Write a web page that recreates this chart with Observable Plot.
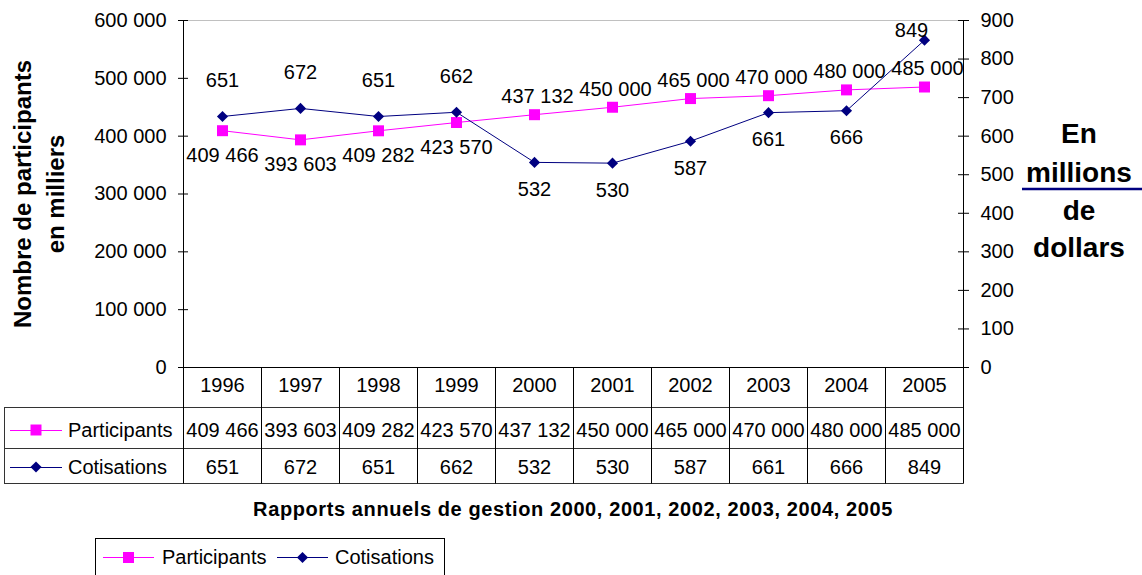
<!DOCTYPE html>
<html><head><meta charset="utf-8">
<script src="https://cdn.jsdelivr.net/npm/d3@7"></script>
<script src="https://cdn.jsdelivr.net/npm/@observablehq/plot@0.6"></script>
<style>
html,body{margin:0;padding:0;background:#fff;}
#chart svg{display:block;}
</style></head><body><div id="chart"></div>
<script>
// ---- data ----
const years = ["1996","1997","1998","1999","2000","2001","2002","2003","2004","2005"];
const participants = [409466, 393603, 409282, 423570, 437132, 450000, 465000, 470000, 480000, 485000];
const cotisations = [651, 672, 651, 662, 532, 530, 587, 661, 666, 849];
const leftTicks = [0, 100000, 200000, 300000, 400000, 500000, 600000];
const rightTicks = [0, 100, 200, 300, 400, 500, 600, 700, 800, 900];
const seriesNames = ["Participants", "Cotisations"];
const titleText = "Rapports annuels de gestion 2000, 2001, 2002, 2003, 2004, 2005";
const leftTitle = ["Nombre de participants", "en milliers"];
const rightTitle = ["En", "millions", "de", "dollars"];

// ---- setup ----
const W = 1142, H = 575;
const yMax = leftTicks[leftTicks.length - 1];
const k = yMax / rightTicks[rightTicks.length - 1];
const fmt = v => d3.format(",")(v).replace(/,/g, " ");
const rows = years.map((year, i) => ({year, p: participants[i], c: cotisations[i], cy: cotisations[i] * k}));
const MAG = "#ff00ff", NAVY = "#000080";
const FONT = "'Liberation Sans', Arial, sans-serif";
const FS = 20;
const rSq = 6.2, rDia = 5;

const pxToY = px => px / 347 * yMax;
// label placement: avoid collisions between the two series
const near = d => d.cy > d.p && d.cy - d.p < pxToY(40);
const cAbove = rows.filter(d => d.cy > d.p);
const cBelow = rows.filter(d => d.cy <= d.p);
const pBelow = rows.filter(d => near(d));
const pAbove = rows.filter(d => !near(d));
const cAboveOff = pxToY(36), capY = yMax - pxToY(10);
const cAboveNormal = cAbove.filter(d => d.cy + cAboveOff <= capY);
const cAboveTop = cAbove.filter(d => d.cy + cAboveOff > capY);

const chart = Plot.plot({
  width: W, height: H,
  marginLeft: 183, marginRight: 179, marginTop: 20, marginBottom: 208,
  style: {fontFamily: FONT, fontSize: FS + "px", color: "#000", background: "#fff"},
  x: {type: "point", domain: years, padding: 0.5, axis: null},
  y: {domain: [0, yMax]},
  marks: [
    Plot.frame({stroke: "#000"}),
    Plot.ruleY([yMax], {stroke: "#c0c0c0"}),
    Plot.axisY(leftTicks, {anchor: "left", tickSize: 5, tickPadding: 12, tickFormat: fmt, fontSize: FS, label: null}),
    Plot.gridY(leftTicks, {stroke: "#000", strokeOpacity: 1, insetRight: 775}),
    Plot.axisY(rightTicks.map(v => v * k), {anchor: "right", tickSize: 5, tickPadding: 12, tickFormat: v => String(Math.round(v / k)), fontSize: FS, label: null}),
    Plot.gridY(rightTicks.map(v => v * k), {stroke: "#000", strokeOpacity: 1, insetLeft: 775}),
    Plot.line(rows, {x: "year", y: "p", stroke: MAG, strokeWidth: 1}),
    Plot.line(rows, {x: "year", y: "cy", stroke: NAVY, strokeWidth: 1}),
    Plot.dot(rows, {x: "year", y: "p", symbol: "square", fill: MAG, r: rSq}),
    Plot.dot(rows, {x: "year", y: "cy", symbol: "diamond2", fill: NAVY, r: rDia}),
    // data labels
    Plot.text(pBelow, {x: "year", y: "p", text: d => fmt(d.p), dy: 25, fontSize: FS, fill: "#000"}),
    Plot.text(pAbove, {x: "year", y: "p", text: d => fmt(d.p), dy: -18, dx: 3, fontSize: FS, fill: "#000"}),
    Plot.text(cAboveNormal, {x: "year", y: "cy", text: d => fmt(d.c), dy: -36, fontSize: FS, fill: "#000"}),
    Plot.text(cAboveTop, {x: "year", y: () => capY, text: d => fmt(d.c), dx: -13, fontSize: FS, fill: "#000"}),
    Plot.text(cBelow, {x: "year", y: "cy", text: d => fmt(d.c), dy: 27, fontSize: FS, fill: "#000"}),
    // data table
    Plot.text(rows, {x: "year", text: "year", frameAnchor: "bottom", lineAnchor: "middle", dy: 18, fontSize: FS, fill: "#000"}),
    Plot.text(rows, {x: "year", text: d => fmt(d.p), frameAnchor: "bottom", lineAnchor: "middle", dy: 63, fontSize: FS, fill: "#000"}),
    Plot.text(rows, {x: "year", text: d => fmt(d.c), frameAnchor: "bottom", lineAnchor: "middle", dy: 100, fontSize: FS, fill: "#000"})
  ]
});
document.getElementById("chart").appendChild(chart);

// ---- table grid, titles, legend (positioned from Plot's x scale) ----
const xs = chart.scale("x");
const step = xs.apply(years[1]) - xs.apply(years[0]);
const x0 = xs.apply(years[0]) - step / 2;
const x1 = xs.apply(years[years.length - 1]) + step / 2;
const svg = d3.select(chart);
const g = svg.append("g").attr("font-family", FONT).attr("text-anchor", "start").attr("fill", "#000");
const yBot = 367, r1 = 407, r2 = 448, r3 = 483, leftEdge = 4;
const ln = (a, b, c, d, col, w) => g.append("line").attr("x1", a).attr("y1", b).attr("x2", c).attr("y2", d)
  .attr("stroke", col || "#000").attr("stroke-width", w || 1);
[r1, r2, r3].forEach(y => ln(leftEdge, y + 0.5, x1 + 0.5, y + 0.5, "#333"));
ln(leftEdge + 0.5, r1, leftEdge + 0.5, r3 + 0.5, "#333");
years.forEach(y => { const xb = Math.round(xs.apply(y) - step / 2) + 0.5; ln(xb, yBot, xb, r3 + 0.5); });
ln(Math.round(x1) + 0.5, yBot, Math.round(x1) + 0.5, r3 + 0.5);

const sq = d3.symbol(d3.symbolSquare, rSq * rSq * Math.PI)();
const dia = d3.symbol(d3.symbolDiamond2, rDia * rDia * Math.PI)();
const keyItems = [
  {name: seriesNames[0], col: MAG, path: sq, ty: 430},
  {name: seriesNames[1], col: NAVY, path: dia, ty: 467}
];
keyItems.forEach(it => {
  ln(10, it.ty + 0.5, 62, it.ty + 0.5, it.col);
  g.append("path").attr("d", it.path).attr("fill", it.col).attr("transform", `translate(36,${it.ty})`);
  g.append("text").attr("x", 68).attr("y", it.ty).attr("dy", "0.35em").attr("text-anchor", "start")
    .attr("font-size", FS).text(it.name);
});

// bottom title
g.append("text").attr("x", (x0 + x1) / 2).attr("y", 516).attr("text-anchor", "middle")
  .attr("font-size", 20).attr("font-weight", "bold").attr("letter-spacing", "0.6px").text(titleText);

// left axis title
const lt = g.append("text").attr("transform", "translate(31,194) rotate(-90)").attr("text-anchor", "middle")
  .attr("font-size", 24).attr("font-weight", "bold");
lt.append("tspan").attr("x", 0).attr("y", 0).text(leftTitle[0]);
lt.append("tspan").attr("x", 0).attr("y", 33).text(leftTitle[1]);

// right axis title
const rtBase = [143, 182, 220, 257];
rightTitle.forEach((t, i) => {
  g.append("text").attr("x", 1079).attr("y", rtBase[i]).attr("text-anchor", "middle")
    .attr("font-size", 28).attr("font-weight", "bold").text(t);
});
ln(1022, 189, W, 189, NAVY, 2.5);

// legend box
g.append("rect").attr("x", 95.5).attr("y", 538.5).attr("width", 349).attr("height", 60)
  .attr("fill", "none").attr("stroke", "#000");
const legItems = [
  {name: seriesNames[0], col: MAG, path: sq, lx: 103, tx: 162},
  {name: seriesNames[1], col: NAVY, path: dia, lx: 277, tx: 335}
];
legItems.forEach(it => {
  ln(it.lx, 557.5, it.lx + 51, 557.5, it.col);
  g.append("path").attr("d", it.path).attr("fill", it.col).attr("transform", `translate(${it.lx + 25.5},557.5)`);
  g.append("text").attr("x", it.tx).attr("y", 557).attr("dy", "0.35em").attr("text-anchor", "start")
    .attr("font-size", FS).text(it.name);
});
</script>
</body></html>
